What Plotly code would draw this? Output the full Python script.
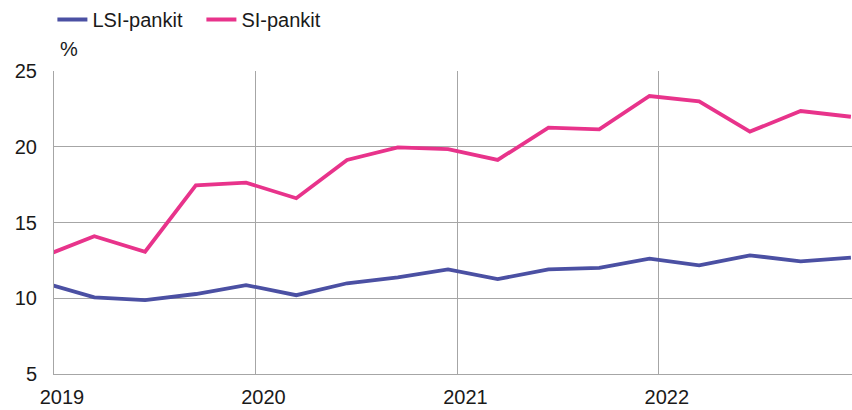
import plotly.graph_objects as go

# Neljännesvuosittaiset havainnot (kuvasta luettu)
dates = [
    "2018-12-15", "2019-03-15", "2019-06-15", "2019-09-15",
    "2019-12-15", "2020-03-15", "2020-06-15", "2020-09-15",
    "2020-12-15", "2021-03-15", "2021-06-15", "2021-09-15",
    "2021-12-15", "2022-03-15", "2022-06-15", "2022-09-15",
    "2022-12-15",
]
lsi_pankit = [11.0, 10.06, 9.88, 10.28, 10.87, 10.2, 10.99, 11.38,
              11.9, 11.27, 11.9, 12.0, 12.61, 12.17, 12.83, 12.44, 12.68]
si_pankit = [12.8, 14.1, 13.07, 17.45, 17.63, 16.6, 19.13, 19.96,
             19.85, 19.13, 21.26, 21.15, 23.35, 23.0, 21.0, 22.36, 21.98]

year_ticks = ["2019-01-01", "2020-01-01", "2021-01-01", "2022-01-01"]
year_labels = ["2019", "2020", "2021", "2022"]

font_family = "Liberation Sans, Arial, sans-serif"
grid_col = "#a6a6a6"
fsize = 20

fig = go.Figure()
fig.add_trace(go.Scatter(x=dates, y=lsi_pankit, name="LSI-pankit", mode="lines",
                         line=dict(color="#4b50a3", width=3.8)))
fig.add_trace(go.Scatter(x=dates, y=si_pankit, name="SI-pankit", mode="lines",
                         line=dict(color="#e8338b", width=3.8)))

fig.update_layout(
    width=852, height=410,
    margin=dict(l=54, r=0, t=71, b=36),
    paper_bgcolor="white", plot_bgcolor="white",
    font=dict(family=font_family, size=fsize, color="#1a1a1a"),
    showlegend=True,
    legend=dict(orientation="h", x=-0.002, y=1.0, yref="container", yanchor="top",
                xanchor="left", entrywidth=104, itemwidth=30,
                font=dict(size=fsize), bgcolor="rgba(0,0,0,0)"),
    annotations=[dict(text="%", xref="paper", yref="paper", x=0.005, y=1.03,
                      xanchor="left", yanchor="bottom", showarrow=False,
                      font=dict(size=fsize))],
)

fig.update_xaxes(
    type="date", range=["2019-01-01", "2022-12-17"],
    tickvals=year_ticks, ticktext=year_labels, ticklabelshift=8,
    ticklabelstandoff=5, automargin=False,
    showgrid=True, gridcolor=grid_col, gridwidth=1,
    showline=True, linecolor=grid_col, linewidth=1,
    ticks="", zeroline=False, tickfont=dict(size=fsize),
)
fig.update_yaxes(
    range=[5, 25], tickvals=[5, 10, 15, 20, 25],
    ticklabelstandoff=12, automargin=False,
    showgrid=True, gridcolor=grid_col, gridwidth=1,
    showline=True, linecolor=grid_col, linewidth=1, mirror=False,
    ticks="", zeroline=False, tickfont=dict(size=fsize),
)

fig.write_html("out.html", config={"displayModeBar": False},
               post_script="document.body.style.margin='0';")
